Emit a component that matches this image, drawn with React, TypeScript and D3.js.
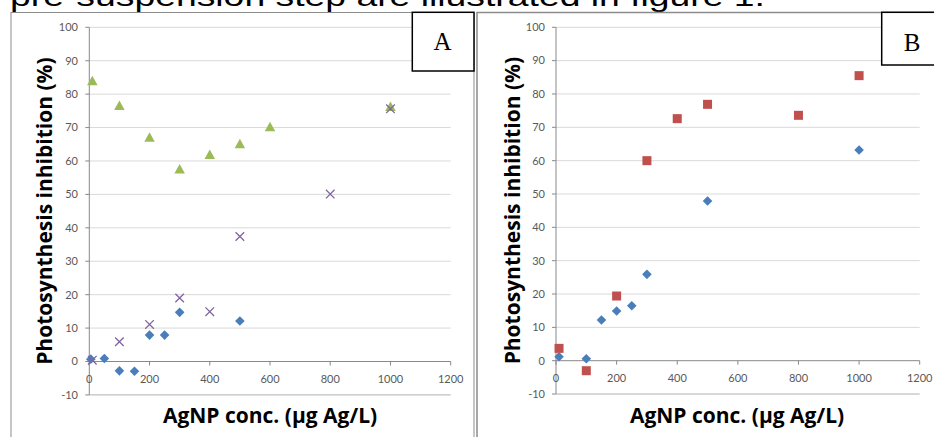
import React from "react";
import * as d3 from "d3";

// ---- Data ----
const xTicks = [0, 200, 400, 600, 800, 1000, 1200];
const yTicks = [-10, 0, 10, 20, 30, 40, 50, 60, 70, 80, 90, 100];

// Panel A
const aDiamondX = [5, 50, 100, 150, 200, 250, 300, 500];
const aDiamondY = [0.7, 0.9, -2.8, -2.9, 7.9, 7.9, 14.7, 12.1];
const aTriangleX = [10, 100, 200, 300, 400, 500, 600, 1000];
const aTriangleY = [83.8, 76.4, 66.9, 57.4, 61.7, 64.9, 70.0, 76.1];
const aCrossX = [10, 100, 200, 300, 400, 500, 800, 1000];
const aCrossY = [0.4, 5.9, 11.1, 19.0, 14.9, 37.4, 50.1, 75.6];

// Panel B
const bDiamondX = [10, 100, 150, 200, 250, 300, 500, 1000];
const bDiamondY = [1.2, 0.6, 12.2, 14.9, 16.5, 25.9, 47.9, 63.2];
const bSquareX = [10, 100, 200, 300, 400, 500, 800, 1000];
const bSquareY = [3.7, -3.0, 19.4, 60.0, 72.6, 76.9, 73.6, 85.5];

const xTitle = "AgNP conc. (µg Ag/L)";
const yTitle = "Photosynthesis inhibition (%)";
const topText = "pre-suspension step are illustrated in figure 1.";

const BLUE = "#4a7ebb";
const RED = "#c0504d";
const GREEN = "#9bbb59";
const PURPLE = "#8064a2";
const GRID = "#d9d9d9";
const AXIS = "#898989";
const TICKTXT = "#595959";

type Series = { xs: number[]; ys: number[]; kind: "diamond" | "square" | "triangle" | "cross"; color: string };

function Marker({ kind, cx, cy, color }: { kind: string; cx: number; cy: number; color: string }) {
  if (kind === "diamond") {
    const r = 4.8;
    return <path d={`M${cx},${cy - r}L${cx + r},${cy}L${cx},${cy + r}L${cx - r},${cy}Z`} fill={color} />;
  }
  if (kind === "square") {
    const s = 9;
    return <rect x={cx - s / 2} y={cy - s / 2} width={s} height={s} fill={color} />;
  }
  if (kind === "triangle") {
    const w = 10.5, h = 9.5;
    return <path d={`M${cx},${cy - h / 2 - 1}L${cx + w / 2},${cy + h / 2 - 1}L${cx - w / 2},${cy + h / 2 - 1}Z`} fill={color} />;
  }
  const r = 4.3;
  return (
    <path d={`M${cx - r},${cy - r}L${cx + r},${cy + r}M${cx - r},${cy + r}L${cx + r},${cy - r}`} stroke={color} strokeWidth={1.3} fill="none" />
  );
}

function Panel({ x0, x1, yTop, yZero, series, titleX, yTitleBaseX, labelRight }: {
  x0: number; x1: number; yTop: number; yZero: number; series: Series[]; titleX: number; yTitleBaseX: number; labelRight: number;
}) {
  const xs = d3.scaleLinear().domain([0, 1200]).range([x0, x1]);
  const ys = d3.scaleLinear().domain([0, 100]).range([yZero, yTop]);
  const tickFont = { fontFamily: "Lato, 'Open Sans', sans-serif", fontSize: 11, fill: TICKTXT };
  const midY = (ys(100) + ys(-10)) / 2;
  return (
    <g>
      {yTicks.map((t) => (
        <line key={"g" + t} x1={x0} x2={x1} y1={ys(t)} y2={ys(t)} stroke={t === 0 ? AXIS : t === -10 ? "#b0b0b0" : GRID} strokeWidth={1} />
      ))}
      <line x1={x0} x2={x0} y1={ys(-10)} y2={ys(100)} stroke={AXIS} />
      {yTicks.map((t) => (
        <line key={"yt" + t} x1={x0 - 4} x2={x0} y1={ys(t)} y2={ys(t)} stroke={AXIS} />
      ))}
      {xTicks.map((t) => (
        <line key={"xt" + t} x1={xs(t)} x2={xs(t)} y1={ys(0)} y2={ys(0) + 4} stroke={AXIS} />
      ))}
      {yTicks.map((t) => (
        <text key={"yl" + t} x={labelRight} y={ys(t)} dy="0.35em" textAnchor="end" {...tickFont}>{t}</text>
      ))}
      {xTicks.map((t) => (
        <text key={"xl" + t} x={xs(t)} y={ys(0) + 21} textAnchor="middle" {...tickFont}>{t}</text>
      ))}
      {series.map((s, si) =>
        s.xs.map((v, i) => <Marker key={si + "-" + i} kind={s.kind} cx={xs(v)} cy={ys(s.ys[i])} color={s.color} />)
      )}
      <text x={titleX} y={422.5} textAnchor="middle" fontFamily="'Open Sans', sans-serif" fontWeight="bold" fontSize={21} fill="#000">{xTitle}</text>
      <text transform={`translate(${yTitleBaseX},${midY}) rotate(-90)`} textAnchor="middle" fontFamily="'Open Sans', sans-serif" fontWeight="bold" fontSize={21} fill="#000">{yTitle}</text>
    </g>
  );
}

export default function App() {
  const seriesA: Series[] = [
    { xs: aDiamondX, ys: aDiamondY, kind: "diamond", color: BLUE },
    { xs: aTriangleX, ys: aTriangleY, kind: "triangle", color: GREEN },
    { xs: aCrossX, ys: aCrossY, kind: "cross", color: PURPLE },
  ];
  const seriesB: Series[] = [
    { xs: bDiamondX, ys: bDiamondY, kind: "diamond", color: BLUE },
    { xs: bSquareX, ys: bSquareY, kind: "square", color: RED },
  ];
  return (
    <svg width={934} height={437} style={{ position: "absolute", left: 0, top: 0, background: "#fff" }}>
      <rect x={0} y={0} width={934} height={437} fill="#fff" />
      <text x={10} y={6} fontFamily="'Liberation Sans', Arial, sans-serif" fontSize={28} textLength={755} lengthAdjust="spacingAndGlyphs" fill="#000">{topText}</text>
      {/* panel frames */}
      <rect x={11} y={12.5} width={463} height={440} fill="none" stroke="#8c8c8c" strokeWidth={1} />
      <rect x={477} y={12.5} width={470} height={440} fill="none" stroke="#8c8c8c" strokeWidth={1.5} />
      <Panel x0={89.3} x1={450.7} yTop={27.3} yZero={361.5} series={seriesA} titleX={270} yTitleBaseX={52} labelRight={78} />
      <Panel x0={556} x1={919.7} yTop={27.3} yZero={360.7} series={seriesB} titleX={737} yTitleBaseX={520} labelRight={545} />
      {/* letter boxes */}
      <rect x={412.3} y={12.3} width={61.7} height={58.7} fill="#fff" stroke="#000" strokeWidth={1.5} />
      <text x={442.5} y={50} textAnchor="middle" fontFamily="'Liberation Serif', 'DejaVu Serif', serif" fontSize={25} fill="#000">A</text>
      <rect x={881.7} y={12.3} width={70} height={52.7} fill="#fff" stroke="#000" strokeWidth={1.5} />
      <text x={912} y={50.5} textAnchor="middle" fontFamily="'Liberation Serif', 'DejaVu Serif', serif" fontSize={25} fill="#000">B</text>
    </svg>
  );
}
